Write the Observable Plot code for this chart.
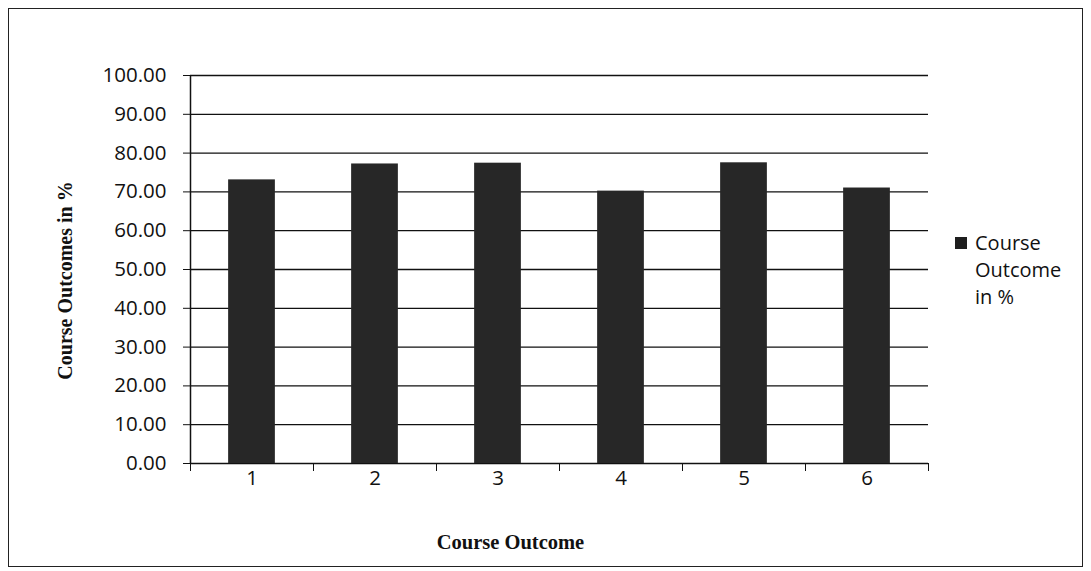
<!DOCTYPE html>
<html>
<head>
<meta charset="utf-8">
<script src="https://cdn.jsdelivr.net/npm/d3@7"></script>
<script src="https://cdn.jsdelivr.net/npm/@observablehq/plot@0.6"></script>
<style>
  html, body { margin: 0; padding: 0; background: #fff; }
  #wrap { position: relative; width: 1091px; height: 571px; overflow: hidden; }
  #border { position: absolute; left: 8px; top: 8px; width: 1075px; height: 559px; border: 1.5px solid #222; box-sizing: border-box; pointer-events: none; }
  #legend { position: absolute; left: 955px; top: 229px; font-family: "Open Sans", sans-serif; font-size: 20px; line-height: 27px; color: #111; }
  #legend .sw { display: inline-block; width: 12px; height: 12px; background: #1e1e1e; margin-right: 8px; vertical-align: 1px; }
  #legend .ind { padding-left: 20px; }
</style>
</head>
<body>
<div id="wrap">
  <div id="chart"></div>
  <div id="border"></div>
  <div id="legend"></div>
</div>
<script>
const categories = [1, 2, 3, 4, 5, 6];
const values = [73.1, 77.2, 77.4, 70.2, 77.5, 71.0];
const yTicks = [0, 10, 20, 30, 40, 50, 60, 70, 80, 90, 100];
const seriesName = "Course Outcome in %";
const xTitle = "Course Outcome";
const yTitle = "Course Outcomes in %";

const data = categories.map((c, i) => ({c, v: values[i]}));
const boundaries = categories.map(c => c - 0.5).concat([categories[categories.length - 1] + 0.5]);
const halfBar = 0.19;

const tickFont = "'Open Sans', sans-serif";
const titleFont = "'Liberation Serif', 'Times New Roman', serif";

const chart = Plot.plot({
  width: 1091,
  height: 571,
  marginLeft: 190,
  marginRight: 163,
  marginTop: 75,
  marginBottom: 108,
  style: {background: "transparent", color: "#111"},
  x: {domain: [boundaries[0], boundaries[boundaries.length - 1]], axis: null},
  y: {domain: [0, 100], axis: null},
  marks: [
    Plot.ruleY(yTicks, {stroke: "#111", strokeWidth: 1.3}),
    Plot.rectY(data, {x1: d => d.c - halfBar, x2: d => d.c + halfBar, y: "v", fill: "#272727", ariaLabel: "bars"}),
    Plot.ruleX([boundaries[0]], {y1: 0, y2: 100, stroke: "#111", strokeWidth: 1.5}),
    Plot.axisY({ticks: yTicks, tickFormat: d3.format(".2f"), tickSize: 7, tickPadding: 17, fontSize: 20.5, fontFamily: tickFont, stroke: "#111", fill: "#111", label: null}),
    Plot.axisX({ticks: boundaries, tickFormat: () => "", tickSize: 8, stroke: "#111", label: null}),
    Plot.axisX({ticks: categories, tickFormat: d => String(d), tickSize: 0, tickPadding: 7, fontSize: 20.5, fontFamily: tickFont, fill: "#111", label: null}),
    Plot.text([xTitle], {frameAnchor: "bottom", textAnchor: "middle", dy: 85, dx: -49, fontSize: 20.5, fontWeight: "bold", fontFamily: titleFont, fill: "#111"}),
    Plot.text([yTitle], {frameAnchor: "left", textAnchor: "middle", lineAnchor: "middle", rotate: -90, dx: -125, dy: 11, fontSize: 20, fontWeight: "bold", fontFamily: titleFont, fill: "#111"})
  ]
});

// speckled texture for the bars, like the scanned print
const ns = "http://www.w3.org/2000/svg";
const defs = document.createElementNS(ns, "defs");
defs.innerHTML = `
  <filter id="speckle" x="0%" y="0%" width="100%" height="100%" color-interpolation-filters="sRGB">
    <feTurbulence type="fractalNoise" baseFrequency="0.9" numOctaves="2" seed="7" result="noise"/>
    <feColorMatrix in="noise" type="matrix"
      values="0 0 0 0 0.6  0 0 0 0 0.6  0 0 0 0 0.6  14 0 0 0 -7.2" result="spots"/>
    <feComposite in="spots" in2="SourceGraphic" operator="atop"/>
  </filter>`;
chart.insertBefore(defs, chart.firstChild);
chart.querySelectorAll('g[aria-label="bars"] rect').forEach(r => r.setAttribute("filter", "url(#speckle)"));

document.getElementById("chart").appendChild(chart);

const words = seriesName.split(" ");
const lg = document.getElementById("legend");
lg.innerHTML = `<div><span class="sw"></span>${words[0]}</div>` +
  `<div class="ind">${words[1]}</div>` +
  `<div class="ind">${words.slice(2).join(" ")}</div>`;
</script>
</body>
</html>
